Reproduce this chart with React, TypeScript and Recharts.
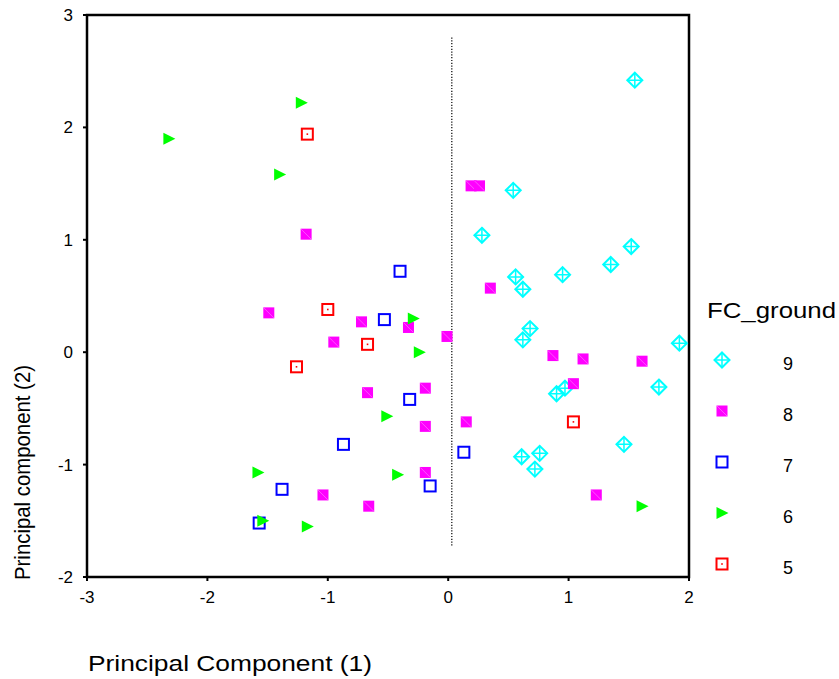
import React from "react";
import { ScatterChart, Scatter, XAxis, YAxis, ReferenceArea, ReferenceLine, Label } from "recharts";

const FONT = "'Liberation Sans', Arial, sans-serif";

// FC_ground groups, [x, y] = principal component (1), (2)
const group9: [number, number][] = [
  [1.55, 2.42], [0.54, 1.44], [0.28, 1.04], [1.52, 0.94], [1.35, 0.78], [0.95, 0.69],
  [0.56, 0.67], [0.62, 0.56], [0.68, 0.21], [0.62, 0.11], [1.92, 0.08], [1.75, -0.31],
  [0.97, -0.32], [0.9, -0.37], [1.46, -0.82], [0.61, -0.93], [0.76, -0.9], [0.72, -1.04],
];
const group8: [number, number][] = [
  [-1.18, 1.05], [0.19, 1.48], [0.26, 1.48], [0.35, 0.57], [-1.49, 0.35], [-0.72, 0.27],
  [-0.33, 0.22], [-0.01, 0.14], [-0.95, 0.09], [-0.67, -0.36], [-0.19, -0.32], [-0.19, -0.66],
  [-0.19, -1.07], [-1.04, -1.27], [-0.66, -1.37], [0.87, -0.03], [1.12, -0.06], [1.61, -0.08],
  [1.04, -0.28], [0.15, -0.62], [1.23, -1.27],
];
const group7: [number, number][] = [
  [-0.4, 0.72], [-0.53, 0.29], [-0.32, -0.42], [-0.87, -0.82], [-0.15, -1.19],
  [-1.38, -1.22], [-1.57, -1.52], [0.13, -0.89],
];
const group6: [number, number][] = [
  [-1.22, 2.22], [-2.32, 1.9], [-1.4, 1.58], [-0.29, 0.3], [-0.24, 0.0], [-0.51, -0.57],
  [-1.58, -1.07], [-0.42, -1.09], [-1.54, -1.5], [-1.17, -1.55], [1.61, -1.37],
];
const group5: [number, number][] = [
  [-1.17, 1.94], [-1.0, 0.38], [-0.67, 0.07], [-1.26, -0.13], [1.04, -0.62],
];

const xTicks = [-3, -2, -1, 0, 1, 2];
const yTicks = [-2, -1, 0, 1, 2, 3];
const legendLabels = ["9", "8", "7", "6", "5"];

const toPoints = (g: [number, number][]) => g.map(([x, y]) => ({ x, y }));

function Diamond({ cx, cy }: any) {
  const r = 7.5;
  return (
    <g stroke="#00ffff" strokeWidth={2} fill="none">
      <path d={`M${cx},${cy - r}L${cx + r},${cy}L${cx},${cy + r}L${cx - r},${cy}Z`} />
      <path d={`M${cx},${cy - r}V${cy + r}M${cx - r},${cy}H${cx + r}`} strokeWidth={1.5} />
    </g>
  );
}

function FilledSquare({ cx, cy }: any) {
  return (
    <g>
      <rect x={cx - 5.5} y={cy - 5.5} width={11} height={11} fill="#ff00ff" />
      <path d={`M${cx - 5},${cy - 5}L${cx + 5},${cy + 5}`} stroke="#ff66ff" strokeWidth={0.8} />
    </g>
  );
}

function OpenSquare({ cx, cy }: any) {
  return <rect x={cx - 5.5} y={cy - 5.5} width={11} height={11} fill="none" stroke="#0000ff" strokeWidth={2} />;
}

function Triangle({ cx, cy }: any) {
  return <path d={`M${cx - 5.5},${cy - 6}L${cx + 6.5},${cy}L${cx - 5.5},${cy + 6}Z`} fill="#00ff00" />;
}

function DotSquare({ cx, cy }: any) {
  return (
    <g>
      <rect x={cx - 5.5} y={cy - 5.5} width={11} height={11} fill="none" stroke="#ff0000" strokeWidth={2} />
      <rect x={cx - 0.8} y={cy - 0.8} width={1.6} height={1.6} fill="#ff0000" />
    </g>
  );
}

const shapes = [Diamond, FilledSquare, OpenSquare, Triangle, DotSquare];

export default function App() {
  return (
    <div style={{ position: "absolute", left: 0, top: 0, width: 839, height: 679, background: "#fff", fontFamily: FONT }}>
      <ScatterChart width={839} height={679} margin={{ top: 15, right: 150, bottom: 72, left: 0 }}>
        <XAxis
          type="number"
          dataKey="x"
          domain={[-3, 2]}
          ticks={xTicks}
          allowDataOverflow
          height={30}
          stroke="#000"
          strokeWidth={2}
          tickSize={4}
          tickMargin={10}
          tick={{ fill: "#000", fontSize: 17, fontFamily: FONT }}
        >
          <Label
            content={({ viewBox }: any) => (
              <text x={viewBox.x + 1} y={viewBox.y + 94} fontSize={22} fontFamily={FONT} fill="#000" textLength={284} lengthAdjust="spacingAndGlyphs">
                Principal Component (1)
              </text>
            )}
          />
        </XAxis>
        <YAxis
          type="number"
          dataKey="y"
          domain={[-2, 3]}
          ticks={yTicks}
          allowDataOverflow
          width={87}
          stroke="#000"
          strokeWidth={2}
          tickSize={4}
          tickMargin={10}
          tick={{ fill: "#000", fontSize: 17, fontFamily: FONT }}
        >
          <Label
            content={({ viewBox }: any) => {
              const x = viewBox.x + 30;
              const y = viewBox.y + viewBox.height + 3;
              return (
                <text x={x} y={y} transform={`rotate(-90 ${x} ${y})`} fontSize={22} fontFamily={FONT} fill="#000" textLength={215} lengthAdjust="spacingAndGlyphs">
                  Principal component (2)
                </text>
              );
            }}
          />
        </YAxis>
        <ReferenceArea x1={-3} x2={2} y1={-2} y2={3} fill="none" stroke="#000" strokeWidth={2.5} ifOverflow="visible" />
        <ReferenceLine
          segment={[{ x: 0.03, y: 2.8 }, { x: 0.03, y: -1.73 }]}
          stroke="#000"
          strokeWidth={1.2}
          strokeDasharray="1.2 1.6"
          ifOverflow="visible"
        />
        <Scatter name="9" data={toPoints(group9)} shape={(p: any) => <Diamond cx={p.cx} cy={p.cy} />} isAnimationActive={false} />
        <Scatter name="8" data={toPoints(group8)} shape={(p: any) => <FilledSquare cx={p.cx} cy={p.cy} />} isAnimationActive={false} />
        <Scatter name="7" data={toPoints(group7)} shape={(p: any) => <OpenSquare cx={p.cx} cy={p.cy} />} isAnimationActive={false} />
        <Scatter name="6" data={toPoints(group6)} shape={(p: any) => <Triangle cx={p.cx} cy={p.cy} />} isAnimationActive={false} />
        <Scatter name="5" data={toPoints(group5)} shape={(p: any) => <DotSquare cx={p.cx} cy={p.cy} />} isAnimationActive={false} />
      </ScatterChart>
      {/* legend */}
      <svg width={149} height={300} style={{ position: "absolute", left: 690, top: 290 }}>
        <text x={17} y={28} fontSize={22} fontFamily={FONT} fill="#000" textLength={129} lengthAdjust="spacingAndGlyphs">
          FC_ground
        </text>
        {legendLabels.map((lab, i) => {
          const Shape = shapes[i];
          const cy = 70 + i * 51;
          return (
            <g key={lab}>
              <Shape cx={32} cy={cy} />
              <text x={98} y={cy + 10} fontSize={18} fontFamily={FONT} fill="#000" textAnchor="middle">
                {lab}
              </text>
            </g>
          );
        })}
      </svg>
    </div>
  );
}
